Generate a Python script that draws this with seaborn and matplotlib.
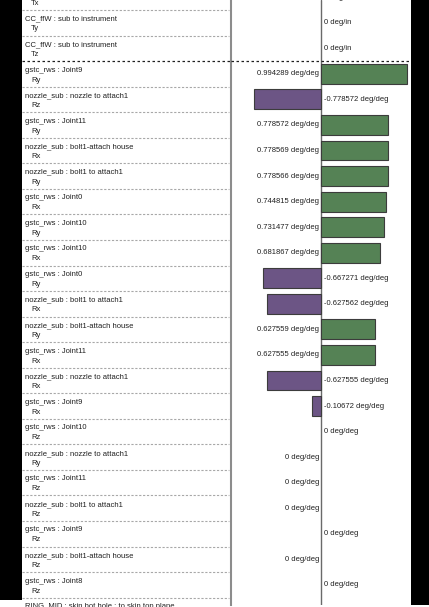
"""Sensitivity table: joint rotations vs. instrument pointing, scrolled view."""

import matplotlib
matplotlib.use("Agg")
import matplotlib.pyplot as plt
import matplotlib.transforms as mtrans
from matplotlib.patches import Rectangle
import numpy as np
import pandas as pd
import seaborn as sns

ROW_NAMES = [
    "CC_ffW : sub to instrument",
    "CC_ffW : sub to instrument",
    "CC_ffW : sub to instrument",
    "gstc_rws : Joint9",
    "nozzle_sub : nozzle to attach1",
    "gstc_rws : Joint11",
    "nozzle_sub : bolt1-attach house",
    "nozzle_sub : bolt1 to attach1",
    "gstc_rws : Joint0",
    "gstc_rws : Joint10",
    "gstc_rws : Joint10",
    "gstc_rws : Joint0",
    "nozzle_sub : bolt1 to attach1",
    "nozzle_sub : bolt1-attach house",
    "gstc_rws : Joint11",
    "nozzle_sub : nozzle to attach1",
    "gstc_rws : Joint9",
    "gstc_rws : Joint10",
    "nozzle_sub : nozzle to attach1",
    "gstc_rws : Joint11",
    "nozzle_sub : bolt1 to attach1",
    "gstc_rws : Joint9",
    "nozzle_sub : bolt1-attach house",
    "gstc_rws : Joint8",
    "RING_MID : skin bot hole : to skin top plane",
]
DOFS = ["Tx", "Ty", "Tz", "Ry", "Rz", "Ry", "Rx", "Ry", "Rx", "Ry", "Rx", "Ry", "Rx",
        "Ry", "Rx", "Rx", "Rx", "Rz", "Ry", "Rz", "Rz", "Rz", "Rz", "Rz", "Tx"]
VALUES = [0.0, 0.0, 0.0, 0.994289, -0.778572, 0.778572, 0.778569, 0.778566, 0.744815,
          0.731477, 0.681867, -0.667271, -0.627562, 0.627559, 0.627555, -0.627555,
          -0.10672, 0.0, 1e-9, 1e-9, 1e-9, 0.0, 1e-9, 0.0, 0.0]
UNITS = ["deg/in"] * 3 + ["deg/deg"] * 21 + ["deg/in"]
N_HEADER = 3  # rows above the black dashed divider

GREEN = "#4d8a4d"
PURPLE = "#6b4d8d"

# figure layout in pixels
W, H = 429, 607
ROW_PX = 25.55
FIRST_SEP_PX = 10
TABLE_X0, SPLIT_X, TABLE_X1 = 22, 231, 411
TABLE_H = 605
XMAX = 90 / 86.6


def fmt(v):
    v = round(v, 6)
    return "0" if v == 0 else f"{v:.6g}"


def main():
    sns.set_theme(style="white")
    plt.rcParams["font.family"] = ["Liberation Sans", "DejaVu Sans"]

    df = pd.DataFrame({
        "row": [f"{i:02d}" for i in range(len(VALUES))],
        "value": VALUES,
        "sign": ["pos" if v > 0 else "neg" for v in VALUES],
    })

    fig = plt.figure(figsize=(W / 100, H / 100), dpi=100)
    fig.patch.set_facecolor("white")
    bottom = 1 - TABLE_H / H
    ax = fig.add_axes([SPLIT_X / W, bottom, (TABLE_X1 - SPLIT_X) / W, TABLE_H / H])
    lab = fig.add_axes([TABLE_X0 / W, bottom, (SPLIT_X - TABLE_X0) / W, TABLE_H / H], sharey=ax)

    sns.barplot(data=df, x="value", y="row", hue="sign", order=df["row"],
                palette={"pos": GREEN, "neg": PURPLE}, dodge=False, width=0.78,
                edgecolor="#3c3c3c", linewidth=0.8, legend=False, ax=ax)
    for p in ax.patches:
        if abs(p.get_width()) < 1e-4:
            p.set_visible(False)

    ytop = 0.5 - FIRST_SEP_PX / ROW_PX
    ax.set_ylim(ytop + TABLE_H / ROW_PX, ytop)
    ax.set_xlim(-XMAX, XMAX)
    ax.axvline(0, color="#6a6a6a", lw=1.0, zorder=0)
    for s in ["top", "right", "bottom"]:
        ax.spines[s].set_visible(False)
    ax.spines["left"].set_color("#8c8c8c")
    ax.spines["left"].set_linewidth(1.5)
    ax.set_xticks([])
    ax.set_yticks([])
    ax.set_xlabel("")
    ax.set_ylabel("")

    for k, (v, u) in enumerate(zip(VALUES, UNITS)):
        pos = v > 0
        ax.annotate(f"{fmt(v)} {u}", xy=(0, k), xytext=(-2 if pos else 3, 0),
                    textcoords="offset pixels", ha="right" if pos else "left",
                    va="center", fontsize=5.5, color="#202020", annotation_clip=False)

    # label column
    lab.axis("off")
    tr = mtrans.blended_transform_factory(lab.transAxes, lab.transData)
    for k, (name, dof) in enumerate(zip(ROW_NAMES, DOFS)):
        lab.text(3 / 209, k - 0.15, name, transform=tr, ha="left", va="center",
                 fontsize=5.5, color="#202020")
        lab.text(9 / 209, k + 0.24, dof, transform=tr, ha="left", va="center",
                 fontsize=5.5, color="#202020")
    for k in range(len(VALUES) - 1):
        b = k + 0.5
        if k == N_HEADER - 1:
            for a in (lab, ax):
                a.axhline(b, color="#202020", lw=0.9, ls=(0, (2, 2)), zorder=5)
        else:
            lab.axhline(b, xmax=0.99, color="#a8a8a8", lw=0.8, ls=(0, (2, 1.5)))

    # dark frame strips on either side
    fig.add_artist(Rectangle((0, 1 - 600 / H), TABLE_X0 / W, 600 / H,
                             transform=fig.transFigure, color="black", lw=0))
    fig.add_artist(Rectangle((TABLE_X1 / W, 1 - 605 / H), (W - TABLE_X1) / W, 605 / H,
                             transform=fig.transFigure, color="black", lw=0))

    fig.savefig("out.png", dpi=100)
    plt.close(fig)


if __name__ == "__main__":
    main()
